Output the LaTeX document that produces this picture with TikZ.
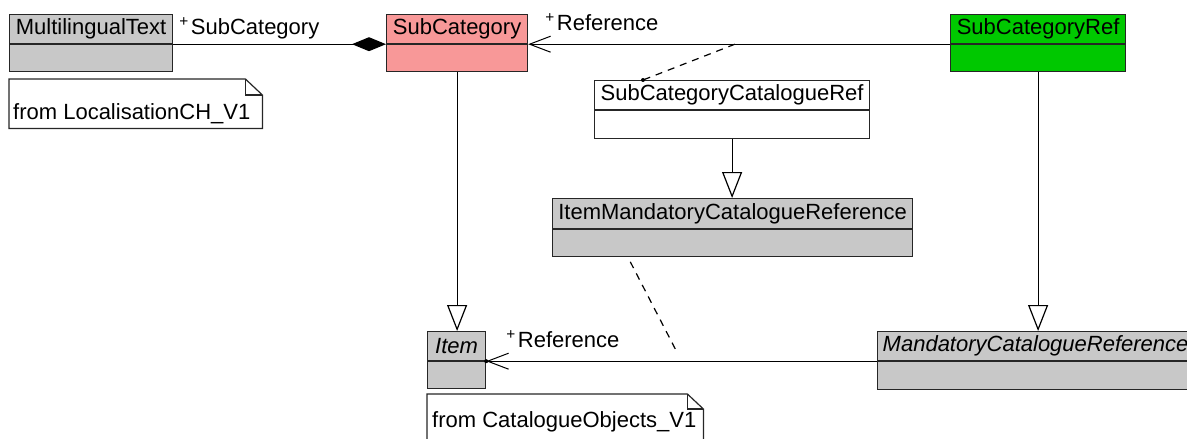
\documentclass[tikz,border=0pt]{standalone}
\usepackage{fontspec}
\setmainfont{Liberation Sans}
\usepackage{xcolor}
\usepackage{tikz}
\usetikzlibrary{arrows.meta,positioning,calc}
\definecolor{umlgray}{RGB}{200,200,200}
\definecolor{umlpink}{RGB}{248,152,152}
\definecolor{umlgreen}{RGB}{0,200,0}
\newcommand{\umlfont}{\fontsize{22}{26}\selectfont}
\newcommand{\pub}{\textsuperscript{+}\hspace{2pt}}
\tikzset{
  clshead/.style ={draw=black!85,line width=1.2pt,anchor=north west,inner sep=0pt,minimum height=29pt,font=\umlfont},
  clsbody/.style ={draw=black!85,line width=1.2pt,anchor=north west,inner sep=0pt,minimum height=27pt},
  notebox/.style ={anchor=north west,inner sep=0pt},
  notetext/.style={anchor=base west,inner sep=0pt,font=\umlfont},
  noteline/.style={draw=black!85,line width=1.2pt,fill=white},
  rolelbl/.style ={anchor=base west,inner sep=0pt,font=\umlfont},
  assoc/.style   ={black,line width=1.2pt},
  navarrow/.style={-{Straight Barb[length=21pt,width=16pt,line width=1pt]}},
  gen/.style     ={black,line width=1.2pt,-{Triangle[open,length=26pt,width=20pt,fill=white]}},
  anchordash/.style={black,line width=1.2pt,dash pattern=on 7pt off 6pt},
}
\begin{document}
\begin{tikzpicture}[x=1pt,y=-1pt]
  \useasboundingbox (0,0) rectangle (1187,439);
  \clip (0,0) rectangle (1187,439);
  % notes
  \node[notebox,minimum width=253pt,minimum height=49pt] (note-loc) at (9,79) {};
  \draw[noteline] (note-loc.north west) -- ([xshift=-17pt]note-loc.north east) -- ([yshift=-16pt]note-loc.north east) -- (note-loc.south east) -- (note-loc.south west) -- cycle;
  \draw[noteline,fill=none] ([xshift=-17pt]note-loc.north east) |- ([yshift=-16pt]note-loc.north east);
  \node[notetext] (note-loc-t) at ([xshift=4pt,yshift=9pt]note-loc.south west) {from LocalisationCH\_V1};
  \node[notebox,minimum width=276pt,minimum height=60pt] (note-cat) at (427,394) {};
  \draw[noteline] (note-cat.north west) -- ([xshift=-16pt]note-cat.north east) -- ([yshift=-15pt]note-cat.north east) -- (note-cat.south east) -- (note-cat.south west) -- cycle;
  \draw[noteline,fill=none] ([xshift=-16pt]note-cat.north east) |- ([yshift=-15pt]note-cat.north east);
  \node[notetext] (note-cat-t) at ([xshift=5pt,yshift=27pt]note-cat.south west) {from CatalogueObjects\_V1};
  % classes: name compartment + empty body
  \node[clshead,fill=umlgray,minimum width=163pt] (mlt) at (9,14) {MultilingualText};
  \node[clsbody,fill=umlgray,minimum width=163pt] (mlt-b) at (mlt.south west) {};
  \node[clshead,fill=umlpink,minimum width=141pt] (subcat) at (386,14) {SubCategory};
  \node[clsbody,fill=umlpink,minimum width=141pt] (subcat-b) at (subcat.south west) {};
  \node[clshead,fill=umlgreen,minimum width=175pt] (scref) at (950,14) {SubCategoryRef};
  \node[clsbody,fill=umlgreen,minimum width=175pt] (scref-b) at (scref.south west) {};
  \node[clshead,fill=white,minimum width=275pt] (sccr) at (594,80) {SubCategoryCatalogueRef};
  \node[clsbody,fill=white,minimum width=275pt,minimum height=28pt] (sccr-b) at (sccr.south west) {};
  \node[clshead,fill=umlgray,minimum width=360pt,minimum height=30pt] (imcr) at (552,198) {ItemMandatoryCatalogueReference};
  \node[clsbody,fill=umlgray,minimum width=360pt] (imcr-b) at (imcr.south west) {};
  \node[clshead,fill=umlgray,minimum width=58pt,font=\umlfont\itshape] (item) at (427,331) {Item};
  \node[clsbody,fill=umlgray,minimum width=58pt] (item-b) at (item.south west) {};
  \node[clshead,fill=umlgray,minimum width=316pt,font=\umlfont\itshape] (mcr) at (877,331) {MandatoryCatalogueReference};
  \node[clsbody,fill=umlgray,minimum width=316pt,minimum height=28pt] (mcr-b) at (mcr.south west) {};
  % composition
  \draw[assoc,{Diamond[length=34pt,width=14pt]}-] (subcat.south west) -- (mlt.south east);
  \node[rolelbl] (role-sub) at ([xshift=6pt,yshift=10pt]mlt.south east) {\pub SubCategory};
  % associations
  \draw[assoc,navarrow] (scref.south west) -- (subcat.south east);
  \node[rolelbl] (role-ref1) at ([xshift=17pt,yshift=14pt]subcat.south east) {\pub Reference};
  \draw[assoc,navarrow] (mcr.south west) -- (item.south east);
  \fill (item.south east) circle (2pt);
  \node[rolelbl] (role-ref2) at ([xshift=20pt,yshift=14pt]item.south east) {\pub Reference};
  % association classes
  \coordinate (refmid1) at ($(subcat.south east)!0.49!(scref.south west)$);
  \coordinate (sccr-att) at ([xshift=49pt]sccr.north west);
  \draw[anchordash] (refmid1) -- (sccr-att);
  \fill (sccr-att) circle (2pt);
  \coordinate (refmid2) at ($(item.south east)!0.5!(mcr.south west)$);
  \draw[anchordash,shorten <=5pt,shorten >=10pt] ([xshift=76pt]imcr-b.south west) -- (refmid2);
  % generalizations
  \draw[gen] (subcat-b.south) -- (subcat-b.south |- item.north);
  \draw[gen] (sccr-b.south) -- (sccr-b.south |- imcr.north);
  \draw[gen] (scref-b.south) -- (scref-b.south |- mcr.north);
\end{tikzpicture}
\end{document}
